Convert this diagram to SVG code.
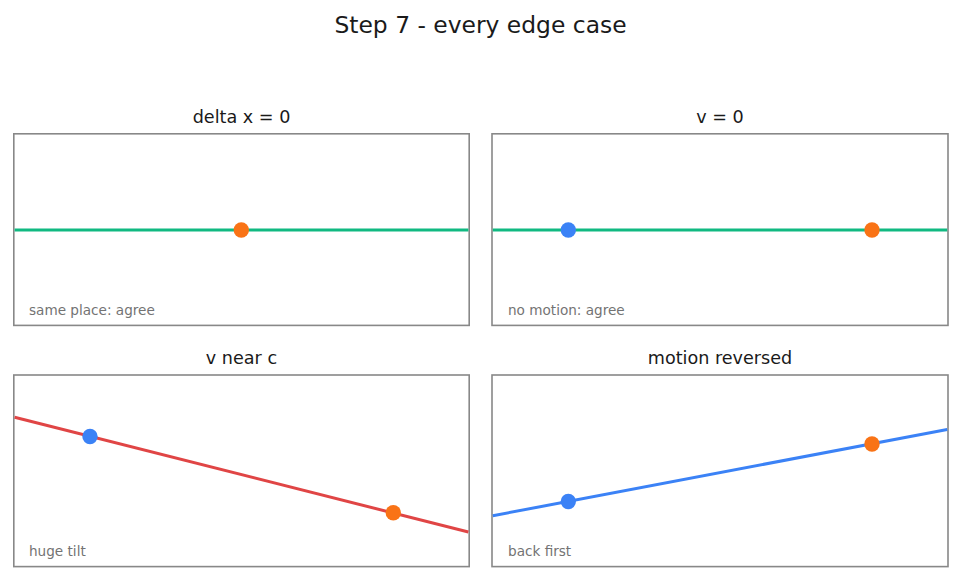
<svg xmlns="http://www.w3.org/2000/svg" width="961" height="581" viewBox="0 0 961 581">
<style>
text{font-family:"DejaVu Sans","Liberation Sans",sans-serif}
.title{font-size:23.4px;fill:#1a1a1a}
.ptitle{font-size:17.6px;fill:#1a1a1a}
.note{font-size:13.6px;fill:#737373}
.box{fill:#ffffff;stroke:#888888;stroke-width:1.6}
.green{stroke:#10b981;stroke-width:3;fill:none}
.red{stroke:#e04545;stroke-width:3;fill:none}
.blue{stroke:#3b82f6;stroke-width:3;fill:none}
.db{fill:#3b82f6}
.do{fill:#f97316}
</style>
<rect width="961" height="581" fill="#ffffff"/>
<text class="title" x="480.5" y="32.5" text-anchor="middle">Step 7 - every edge case</text>

<g id="panel-delta-x">
<text class="ptitle" x="241.5" y="123" text-anchor="middle">delta x = 0</text>
<rect class="box" x="13.8" y="133.8" width="455.4" height="191.6"/>
</g>
<g id="panel-v0">
<text class="ptitle" x="720" y="123" text-anchor="middle">v = 0</text>
<rect class="box" x="492" y="133.8" width="456" height="191.6"/>
</g>
<g id="panel-vnearc">
<text class="ptitle" x="241.5" y="363.5" text-anchor="middle">v near c</text>
<rect class="box" x="13.8" y="375" width="455.4" height="191.6"/>
</g>
<g id="panel-reversed">
<text class="ptitle" x="720" y="363.5" text-anchor="middle">motion reversed</text>
<rect class="box" x="492" y="375" width="456" height="191.6"/>
</g>

<g id="connectors">
<line class="green" x1="14.6" y1="230" x2="468.4" y2="230"/>
<line class="green" x1="492.8" y1="230" x2="947.2" y2="230"/>
<line class="red" x1="14.6" y1="417.3" x2="468.4" y2="532"/>
<line class="blue" x1="492.8" y1="515.7" x2="947.2" y2="429.5"/>
</g>

<g id="dots">
<circle class="do" cx="241.3" cy="230" r="7.7"/>
<circle class="db" cx="568.3" cy="230" r="7.7"/>
<circle class="do" cx="872" cy="230" r="7.7"/>
<circle class="db" cx="90" cy="436.5" r="7.7"/>
<circle class="do" cx="393.3" cy="512.8" r="7.7"/>
<circle class="db" cx="568.3" cy="501.5" r="7.7"/>
<circle class="do" cx="872" cy="444" r="7.7"/>
</g>

<g id="notes">
<text class="note" x="29" y="315">same place: agree</text>
<text class="note" x="508" y="315">no motion: agree</text>
<text class="note" x="29" y="555.5">huge tilt</text>
<text class="note" x="508" y="555.5">back first</text>
</g>
</svg>
